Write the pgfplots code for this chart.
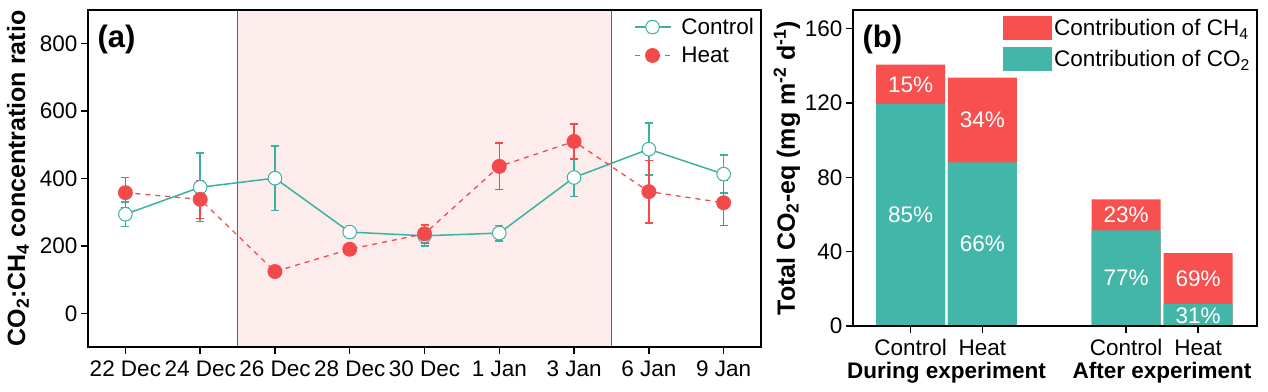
\documentclass[border=0pt]{standalone}
\usepackage{fontspec}
\setmainfont{Liberation Sans}
\setsansfont{Liberation Sans}
\usepackage{pgfplots}
\pgfplotsset{compat=1.18}
\definecolor{ctrl}{HTML}{3BB1A4}
\definecolor{heat}{HTML}{F24A4A}
\definecolor{barteal}{HTML}{43B6AA}
\definecolor{barred}{HTML}{F84F4F}
\definecolor{pinkbg}{HTML}{FDECEC}
\definecolor{vline}{HTML}{E02A2A}
\newcommand\fs{\fontsize{22.5}{26}\selectfont}
\newcommand\fl{\fontsize{25}{28}\selectfont}
\pgfplotstableread{
x y e
0 294 36
1 374 102
2 401 96
3 241 12
4 230 30
5 238 23
6 403 56
7 487 77
8 413 56
}\ctrltab
\pgfplotstableread{
x y e
0 358 45
1 338 56
2 124 5
3 190 5
4 236 28
5 436 69
6 510 52
7 361 93
8 328 67
}\heattab
\begin{document}
\begin{tikzpicture}[x=1pt,y=1pt]
\useasboundingbox (0,0) rectangle (1268,391);
\begin{axis}[
  at={(88pt,44pt)}, anchor=south west, scale only axis,
  width=673pt, height=337pt,
  xmin=-0.5, xmax=8.5, ymin=-100, ymax=900,
  xtick={0,...,8},
  xticklabels={22 Dec,24 Dec,26 Dec,28 Dec,30 Dec,1 Jan,3 Jan,6 Jan,9 Jan},
  ytick={0,200,...,800},
  tick align=outside, tick pos=left, major tick length=7pt,
  axis line style={line width=2pt},
  tick style={line width=1.5pt, black},
  ticklabel style={font=\fs},
  xticklabel style={yshift=-3pt},
  /pgf/number format/assume math mode=true,
  axis on top,
  ylabel={\bfseries CO\textsubscript{2}:CH\textsubscript{4} concentration ratio},
  ylabel style={font=\fl, at={(axis description cs:0,0.5)}, anchor=center, yshift=70pt},
  legend style={at={(1,1)}, anchor=north east, draw=none, fill=none, font=\fs, xshift=-2pt, yshift=-4pt, row sep=7pt},
  legend cell align=left,
  legend image code/.code={\draw[mark repeat=2,mark phase=2,#1] plot coordinates {(0pt,0pt) (18pt,0pt) (36pt,0pt)}; \path (44pt,0pt);},
]
\addplot[draw=none, fill=pinkbg, forget plot] coordinates {(1.5,-100) (1.5,900) (6.5,900) (6.5,-100)} -- cycle;
\addplot[vline, line width=1pt, forget plot] coordinates {(1.5,-100) (1.5,900)};
\addplot[vline, line width=1pt, forget plot] coordinates {(6.5,-100) (6.5,900)};
\addplot[ctrl, line width=1.5pt, mark=*, mark size=6.8pt,
  mark options={fill=white, draw=ctrl, line width=1pt, solid},
  error bars/.cd, y dir=both, y explicit,
  error bar style={line width=1.5pt, ctrl, solid},
  error mark options={rotate=90, mark size=4pt, line width=1.5pt, ctrl}]
  table[x=x, y=y, y error=e] {\ctrltab};
\addlegendentry{Control}
\addplot[heat, line width=1.3pt, dash pattern=on 5pt off 5pt, mark=*, mark size=6.8pt,
  mark options={fill=heat, draw=heat, solid},
  error bars/.cd, y dir=both, y explicit,
  error bar style={line width=1.5pt, heat, solid},
  error mark options={rotate=90, mark size=4pt, line width=1.5pt, heat}]
  table[x=x, y=y, y error=e] {\heattab};
\addlegendentry{Heat}
\node[font=\fontsize{31}{34}\selectfont\bfseries, anchor=north west] at (rel axis cs:0,1) [xshift=6pt, yshift=-12pt] {(a)};
\end{axis}

\begin{axis}[
  at={(853pt,65pt)}, anchor=south west, scale only axis,
  width=404pt, height=316pt,
  xmin=-0.8, xmax=4.82, ymin=0, ymax=170,
  xtick={0,1,3,4}, xticklabels={Control,Heat,Control,Heat},
  ytick={0,40,...,160},
  tick align=outside, tick pos=left, major tick length=7pt,
  axis line style={line width=2pt},
  tick style={line width=1.5pt, black},
  ticklabel style={font=\fs},
  xticklabel style={yshift=-3pt},
  /pgf/number format/assume math mode=true,
  axis on top, clip=false,
  ylabel={\bfseries Total CO\textsubscript{2}-eq (mg m\textsuperscript{-2} d\textsuperscript{-1})},
  ylabel style={font=\fl, at={(axis description cs:0,0.5)}, anchor=center, yshift=66pt},
  legend style={at={(1,1)}, anchor=north east, draw=none, fill=none, font=\fs, xshift=-2pt, yshift=-4pt, row sep=7pt},
  legend cell align=left,
  legend image code/.code={\fill[#1] (0pt,-12pt) rectangle (49pt,12pt);},
]
\addplot[ybar, bar width=0.96, bar shift=0pt, fill=barred, draw=none]
  coordinates {(0,140.6) (1,133.6) (3,68.1) (4,39.2)};
\addlegendentry{Contribution of CH\textsubscript{4}}
\addplot[ybar, bar width=0.96, bar shift=0pt, fill=barteal, draw=none]
  coordinates {(0,119.3) (1,88.0) (3,51.5) (4,11.8)};
\addlegendentry{Contribution of CO\textsubscript{2}}
\begin{scope}[every node/.style={font=\fs, text=white, anchor=center}]
\node at (axis cs:0,130) {15\%};
\node at (axis cs:0,59.6) {85\%};
\node at (axis cs:1,110.8) {34\%};
\node at (axis cs:1,44) {66\%};
\node at (axis cs:3,59.8) {23\%};
\node at (axis cs:3,26) {77\%};
\node at (axis cs:4,25.5) {69\%};
\node at (axis cs:4,5.5) {31\%};
\end{scope}
\node[font=\fs\bfseries] at (axis cs:0.5,0) [yshift=-47pt] {During experiment};
\node[font=\fs\bfseries] at (axis cs:3.5,0) [yshift=-47pt] {After experiment};
\node[font=\fontsize{31}{34}\selectfont\bfseries, anchor=north west] at (rel axis cs:0,1) [xshift=6pt, yshift=-12pt] {(b)};
\end{axis}
\end{tikzpicture}
\end{document}
